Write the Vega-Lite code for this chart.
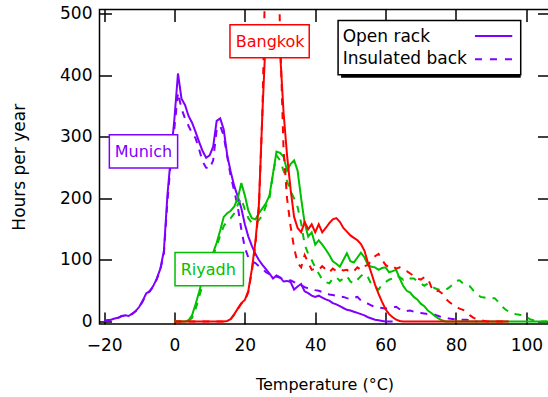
{
  "$schema": "https://vega.github.io/schema/vega-lite/v6.json",
  "width": 450,
  "height": 314.5,
  "autosize": {"type": "none"},
  "padding": {"left": 99.5, "top": 9.5, "right": 0, "bottom": 73},
  "background": "white",
  "config": {
    "view": {"stroke": "black", "strokeWidth": 1.5},
    "font": "DejaVu Sans",
    "axis": {"grid": false, "domain": false, "tickColor": "black", "tickWidth": 1.5, "tickSize": -12, "labelColor": "black", "labelFont": "DejaVu Sans", "labelFontSize": 17, "titleFont": "DejaVu Sans", "titleFontWeight": "normal", "titleColor": "black", "labelFlush": false, "labelOverlap": false}
  },
  "datasets": {
    "munich_open": [{"temp":-20,"hours":1},{"temp":-19,"hours":2},{"temp":-18,"hours":3},{"temp":-17,"hours":5},{"temp":-16,"hours":6},{"temp":-15,"hours":9},{"temp":-14,"hours":10},{"temp":-13,"hours":9},{"temp":-12,"hours":13},{"temp":-11,"hours":17},{"temp":-10,"hours":24},{"temp":-9,"hours":34},{"temp":-8,"hours":46},{"temp":-7,"hours":49},{"temp":-6,"hours":58},{"temp":-5,"hours":70},{"temp":-4,"hours":86},{"temp":-3,"hours":115},{"temp":-2,"hours":205},{"temp":-1,"hours":270},{"temp":0,"hours":330},{"temp":1,"hours":403},{"temp":2,"hours":362},{"temp":3,"hours":352},{"temp":4,"hours":334},{"temp":5,"hours":323},{"temp":6,"hours":308},{"temp":7,"hours":292},{"temp":8,"hours":277},{"temp":9,"hours":266},{"temp":10,"hours":270},{"temp":11,"hours":284},{"temp":12,"hours":326},{"temp":13,"hours":330},{"temp":14,"hours":312},{"temp":15,"hours":270},{"temp":16,"hours":243},{"temp":17,"hours":220},{"temp":18,"hours":203},{"temp":19,"hours":184},{"temp":20,"hours":158},{"temp":21,"hours":138},{"temp":22,"hours":123},{"temp":23,"hours":110},{"temp":24,"hours":100},{"temp":25,"hours":92},{"temp":26,"hours":85},{"temp":27,"hours":78},{"temp":28,"hours":70},{"temp":29,"hours":75},{"temp":30,"hours":72},{"temp":31,"hours":65},{"temp":32,"hours":66},{"temp":33,"hours":64},{"temp":34,"hours":52},{"temp":35,"hours":57},{"temp":36,"hours":61},{"temp":37,"hours":49},{"temp":38,"hours":46},{"temp":39,"hours":42},{"temp":40,"hours":40},{"temp":41,"hours":42},{"temp":42,"hours":39},{"temp":43,"hours":36},{"temp":44,"hours":34},{"temp":45,"hours":30},{"temp":46,"hours":28},{"temp":47,"hours":25},{"temp":48,"hours":22},{"temp":49,"hours":19},{"temp":50,"hours":18},{"temp":51,"hours":16},{"temp":52,"hours":14},{"temp":53,"hours":12},{"temp":54,"hours":10},{"temp":55,"hours":7},{"temp":56,"hours":5},{"temp":57,"hours":3},{"temp":58,"hours":2},{"temp":59,"hours":1},{"temp":60,"hours":0},{"temp":61,"hours":0},{"temp":62,"hours":0}],
    "munich_ins": [{"temp":-20,"hours":1},{"temp":-19,"hours":2},{"temp":-18,"hours":3},{"temp":-17,"hours":4},{"temp":-16,"hours":6},{"temp":-15,"hours":9},{"temp":-14,"hours":9},{"temp":-13,"hours":10},{"temp":-12,"hours":12},{"temp":-11,"hours":17},{"temp":-10,"hours":23},{"temp":-9,"hours":33},{"temp":-8,"hours":44},{"temp":-7,"hours":50},{"temp":-6,"hours":57},{"temp":-5,"hours":69},{"temp":-4,"hours":85},{"temp":-3,"hours":110},{"temp":-2,"hours":195},{"temp":-1,"hours":262},{"temp":0,"hours":315},{"temp":1,"hours":372},{"temp":2,"hours":346},{"temp":3,"hours":330},{"temp":4,"hours":318},{"temp":5,"hours":306},{"temp":6,"hours":298},{"temp":7,"hours":280},{"temp":8,"hours":260},{"temp":9,"hours":250},{"temp":10,"hours":248},{"temp":11,"hours":262},{"temp":12,"hours":312},{"temp":13,"hours":318},{"temp":14,"hours":302},{"temp":15,"hours":268},{"temp":16,"hours":236},{"temp":17,"hours":212},{"temp":18,"hours":186},{"temp":19,"hours":150},{"temp":20,"hours":120},{"temp":21,"hours":104},{"temp":22,"hours":98},{"temp":23,"hours":95},{"temp":24,"hours":90},{"temp":25,"hours":86},{"temp":26,"hours":80},{"temp":27,"hours":77},{"temp":28,"hours":72},{"temp":29,"hours":73},{"temp":30,"hours":71},{"temp":31,"hours":69},{"temp":32,"hours":66},{"temp":33,"hours":67},{"temp":34,"hours":64},{"temp":35,"hours":61},{"temp":36,"hours":59},{"temp":37,"hours":56},{"temp":38,"hours":54},{"temp":39,"hours":53},{"temp":40,"hours":51},{"temp":41,"hours":50},{"temp":42,"hours":48},{"temp":43,"hours":46},{"temp":44,"hours":44},{"temp":45,"hours":43},{"temp":46,"hours":42},{"temp":47,"hours":41},{"temp":48,"hours":40},{"temp":49,"hours":38},{"temp":50,"hours":37},{"temp":51,"hours":39},{"temp":52,"hours":40},{"temp":53,"hours":34},{"temp":54,"hours":31},{"temp":55,"hours":29},{"temp":56,"hours":26},{"temp":57,"hours":24},{"temp":58,"hours":23},{"temp":59,"hours":22},{"temp":60,"hours":21},{"temp":61,"hours":22},{"temp":62,"hours":23},{"temp":63,"hours":24},{"temp":64,"hours":20},{"temp":65,"hours":17},{"temp":66,"hours":17},{"temp":67,"hours":18},{"temp":68,"hours":16},{"temp":69,"hours":15},{"temp":70,"hours":14},{"temp":71,"hours":13},{"temp":72,"hours":12},{"temp":73,"hours":11},{"temp":74,"hours":11},{"temp":75,"hours":9},{"temp":76,"hours":7},{"temp":77,"hours":6},{"temp":78,"hours":5},{"temp":79,"hours":4},{"temp":80,"hours":4},{"temp":81,"hours":3},{"temp":82,"hours":3},{"temp":83,"hours":3},{"temp":84,"hours":2},{"temp":85,"hours":1},{"temp":86,"hours":0}],
    "riyadh_open": [{"temp":0,"hours":0},{"temp":1,"hours":0},{"temp":2,"hours":0},{"temp":3,"hours":0},{"temp":4,"hours":2},{"temp":5,"hours":10},{"temp":6,"hours":28},{"temp":7,"hours":48},{"temp":8,"hours":70},{"temp":9,"hours":88},{"temp":10,"hours":100},{"temp":11,"hours":112},{"temp":12,"hours":128},{"temp":13,"hours":148},{"temp":14,"hours":170},{"temp":15,"hours":176},{"temp":16,"hours":180},{"temp":17,"hours":187},{"temp":18,"hours":200},{"temp":19,"hours":225},{"temp":20,"hours":205},{"temp":21,"hours":180},{"temp":22,"hours":168},{"temp":23,"hours":166},{"temp":24,"hours":176},{"temp":25,"hours":184},{"temp":26,"hours":192},{"temp":27,"hours":205},{"temp":28,"hours":240},{"temp":29,"hours":276},{"temp":30,"hours":274},{"temp":31,"hours":268},{"temp":32,"hours":245},{"temp":33,"hours":256},{"temp":34,"hours":262},{"temp":35,"hours":245},{"temp":36,"hours":200},{"temp":37,"hours":160},{"temp":38,"hours":138},{"temp":39,"hours":145},{"temp":40,"hours":125},{"temp":41,"hours":132},{"temp":42,"hours":125},{"temp":43,"hours":117},{"temp":44,"hours":108},{"temp":45,"hours":98},{"temp":46,"hours":94},{"temp":47,"hours":89},{"temp":48,"hours":100},{"temp":49,"hours":111},{"temp":50,"hours":98},{"temp":51,"hours":96},{"temp":52,"hours":104},{"temp":53,"hours":112},{"temp":54,"hours":104},{"temp":55,"hours":92},{"temp":56,"hours":89},{"temp":57,"hours":88},{"temp":58,"hours":84},{"temp":59,"hours":87},{"temp":60,"hours":88},{"temp":61,"hours":80},{"temp":62,"hours":82},{"temp":63,"hours":84},{"temp":64,"hours":70},{"temp":65,"hours":58},{"temp":66,"hours":50},{"temp":67,"hours":47},{"temp":68,"hours":40},{"temp":69,"hours":36},{"temp":70,"hours":29},{"temp":71,"hours":25},{"temp":72,"hours":18},{"temp":73,"hours":14},{"temp":74,"hours":9},{"temp":75,"hours":5},{"temp":76,"hours":2},{"temp":77,"hours":0},{"temp":80,"hours":0},{"temp":85,"hours":0},{"temp":90,"hours":0},{"temp":95,"hours":0},{"temp":100,"hours":0},{"temp":106,"hours":0}],
    "riyadh_ins": [{"temp":0,"hours":0},{"temp":1,"hours":0},{"temp":2,"hours":0},{"temp":3,"hours":0},{"temp":4,"hours":1},{"temp":5,"hours":6},{"temp":6,"hours":20},{"temp":7,"hours":40},{"temp":8,"hours":60},{"temp":9,"hours":80},{"temp":10,"hours":95},{"temp":11,"hours":108},{"temp":12,"hours":122},{"temp":13,"hours":140},{"temp":14,"hours":155},{"temp":15,"hours":163},{"temp":16,"hours":168},{"temp":17,"hours":176},{"temp":18,"hours":190},{"temp":19,"hours":200},{"temp":20,"hours":182},{"temp":21,"hours":168},{"temp":22,"hours":160},{"temp":23,"hours":158},{"temp":24,"hours":165},{"temp":25,"hours":172},{"temp":26,"hours":188},{"temp":27,"hours":200},{"temp":28,"hours":240},{"temp":29,"hours":270},{"temp":30,"hours":262},{"temp":31,"hours":245},{"temp":32,"hours":228},{"temp":33,"hours":212},{"temp":34,"hours":200},{"temp":35,"hours":186},{"temp":36,"hours":160},{"temp":37,"hours":125},{"temp":38,"hours":110},{"temp":39,"hours":100},{"temp":40,"hours":88},{"temp":41,"hours":78},{"temp":42,"hours":68},{"temp":43,"hours":64},{"temp":44,"hours":62},{"temp":45,"hours":70},{"temp":46,"hours":72},{"temp":47,"hours":66},{"temp":48,"hours":70},{"temp":49,"hours":74},{"temp":50,"hours":65},{"temp":51,"hours":62},{"temp":52,"hours":68},{"temp":53,"hours":74},{"temp":54,"hours":78},{"temp":55,"hours":72},{"temp":56,"hours":60},{"temp":57,"hours":56},{"temp":58,"hours":52},{"temp":59,"hours":60},{"temp":60,"hours":64},{"temp":61,"hours":68},{"temp":62,"hours":70},{"temp":63,"hours":75},{"temp":64,"hours":72},{"temp":65,"hours":68},{"temp":66,"hours":72},{"temp":67,"hours":70},{"temp":68,"hours":70},{"temp":69,"hours":66},{"temp":70,"hours":62},{"temp":71,"hours":58},{"temp":72,"hours":62},{"temp":73,"hours":58},{"temp":74,"hours":54},{"temp":75,"hours":52},{"temp":76,"hours":50},{"temp":77,"hours":51},{"temp":78,"hours":55},{"temp":79,"hours":60},{"temp":80,"hours":66},{"temp":81,"hours":67},{"temp":82,"hours":62},{"temp":83,"hours":58},{"temp":84,"hours":57},{"temp":85,"hours":50},{"temp":86,"hours":45},{"temp":87,"hours":40},{"temp":88,"hours":39},{"temp":89,"hours":38},{"temp":90,"hours":38},{"temp":91,"hours":38},{"temp":92,"hours":32},{"temp":93,"hours":25},{"temp":94,"hours":20},{"temp":95,"hours":16},{"temp":96,"hours":14},{"temp":97,"hours":12},{"temp":98,"hours":11},{"temp":99,"hours":10},{"temp":100,"hours":7},{"temp":101,"hours":4},{"temp":102,"hours":2},{"temp":103,"hours":1},{"temp":104,"hours":0},{"temp":106,"hours":0}],
    "bangkok_open": [{"temp":0,"hours":0},{"temp":5,"hours":0},{"temp":10,"hours":0},{"temp":14,"hours":0},{"temp":15,"hours":1},{"temp":16,"hours":4},{"temp":17,"hours":12},{"temp":18,"hours":21},{"temp":19,"hours":30},{"temp":20,"hours":35},{"temp":21,"hours":50},{"temp":22,"hours":85},{"temp":23,"hours":130},{"temp":24,"hours":190},{"temp":25,"hours":340},{"temp":26,"hours":470},{"temp":27,"hours":475},{"temp":28,"hours":465},{"temp":29,"hours":470},{"temp":30,"hours":440},{"temp":31,"hours":340},{"temp":32,"hours":270},{"temp":33,"hours":215},{"temp":34,"hours":170},{"temp":35,"hours":152},{"temp":36,"hours":145},{"temp":37,"hours":162},{"temp":38,"hours":150},{"temp":39,"hours":158},{"temp":40,"hours":145},{"temp":41,"hours":158},{"temp":42,"hours":145},{"temp":43,"hours":152},{"temp":44,"hours":160},{"temp":45,"hours":166},{"temp":46,"hours":168},{"temp":47,"hours":162},{"temp":48,"hours":152},{"temp":49,"hours":146},{"temp":50,"hours":140},{"temp":51,"hours":136},{"temp":52,"hours":132},{"temp":53,"hours":126},{"temp":54,"hours":115},{"temp":55,"hours":95},{"temp":56,"hours":78},{"temp":57,"hours":60},{"temp":58,"hours":45},{"temp":59,"hours":32},{"temp":60,"hours":20},{"temp":61,"hours":12},{"temp":62,"hours":7},{"temp":63,"hours":3},{"temp":64,"hours":1},{"temp":65,"hours":0},{"temp":70,"hours":0},{"temp":75,"hours":0},{"temp":80,"hours":0},{"temp":85,"hours":0},{"temp":90,"hours":0},{"temp":95,"hours":0}],
    "bangkok_ins": [{"temp":0,"hours":0},{"temp":5,"hours":0},{"temp":10,"hours":0},{"temp":14,"hours":0},{"temp":15,"hours":1},{"temp":16,"hours":4},{"temp":17,"hours":11},{"temp":18,"hours":20},{"temp":19,"hours":29},{"temp":20,"hours":34},{"temp":21,"hours":48},{"temp":22,"hours":82},{"temp":23,"hours":125},{"temp":24,"hours":185},{"temp":25,"hours":340},{"temp":26,"hours":620},{"temp":27,"hours":800},{"temp":28,"hours":800},{"temp":29,"hours":760},{"temp":30,"hours":470},{"temp":31,"hours":280},{"temp":32,"hours":200},{"temp":33,"hours":155},{"temp":34,"hours":120},{"temp":35,"hours":95},{"temp":36,"hours":88},{"temp":37,"hours":108},{"temp":38,"hours":96},{"temp":39,"hours":84},{"temp":40,"hours":86},{"temp":41,"hours":84},{"temp":42,"hours":90},{"temp":43,"hours":85},{"temp":44,"hours":80},{"temp":45,"hours":86},{"temp":46,"hours":82},{"temp":47,"hours":85},{"temp":48,"hours":83},{"temp":49,"hours":84},{"temp":50,"hours":80},{"temp":51,"hours":82},{"temp":52,"hours":88},{"temp":53,"hours":84},{"temp":54,"hours":90},{"temp":55,"hours":92},{"temp":56,"hours":100},{"temp":57,"hours":106},{"temp":58,"hours":110},{"temp":59,"hours":100},{"temp":60,"hours":92},{"temp":61,"hours":88},{"temp":62,"hours":90},{"temp":63,"hours":86},{"temp":64,"hours":88},{"temp":65,"hours":84},{"temp":66,"hours":82},{"temp":67,"hours":78},{"temp":68,"hours":74},{"temp":69,"hours":70},{"temp":70,"hours":68},{"temp":71,"hours":72},{"temp":72,"hours":70},{"temp":73,"hours":56},{"temp":74,"hours":48},{"temp":75,"hours":50},{"temp":76,"hours":46},{"temp":77,"hours":38},{"temp":78,"hours":32},{"temp":79,"hours":28},{"temp":80,"hours":24},{"temp":81,"hours":21},{"temp":82,"hours":19},{"temp":83,"hours":16},{"temp":84,"hours":10},{"temp":85,"hours":6},{"temp":86,"hours":4},{"temp":87,"hours":2},{"temp":88,"hours":1},{"temp":89,"hours":0},{"temp":95,"hours":0}]
  },
  "layer": [
    {
      "data": {"name": "munich_open"},
      "mark": {"type": "line", "color": "#7F00FF", "strokeWidth": 2, "clip": true},
      "encoding": {
        "x": {"field": "temp", "type": "quantitative", "scale": {"domain": [-21.3, 106.58], "nice": false, "zero": false},
              "axis": {"orient": "bottom", "values": [-20, 0, 20, 40, 60, 80, 100], "title": "Temperature (°C)", "titleFontSize": 16, "labelPadding": 25, "titlePadding": 23}},
        "y": {"field": "hours", "type": "quantitative", "scale": {"domain": [-4, 507], "nice": false, "zero": false},
              "axis": {"orient": "left", "values": [0, 100, 200, 300, 400, 500], "title": "Hours per year", "titleFontSize": 17, "labelPadding": 19.5, "titlePadding": 31}}
      }
    },
    {
      "data": {"name": "munich_ins"},
      "mark": {"type": "line", "color": "#7F00FF", "strokeWidth": 2, "strokeDash": [7, 7], "clip": true},
      "encoding": {"x": {"field": "temp", "type": "quantitative", "axis": null}, "y": {"field": "hours", "type": "quantitative", "axis": null}}
    },
    {
      "data": {"name": "riyadh_open"},
      "mark": {"type": "line", "color": "#00C000", "strokeWidth": 2, "clip": true},
      "encoding": {"x": {"field": "temp", "type": "quantitative", "axis": null}, "y": {"field": "hours", "type": "quantitative", "axis": null}}
    },
    {
      "data": {"name": "riyadh_ins"},
      "mark": {"type": "line", "color": "#00C000", "strokeWidth": 2, "strokeDash": [7, 7], "clip": true},
      "encoding": {"x": {"field": "temp", "type": "quantitative", "axis": null}, "y": {"field": "hours", "type": "quantitative", "axis": null}}
    },
    {
      "data": {"name": "bangkok_open"},
      "mark": {"type": "line", "color": "#FF0000", "strokeWidth": 2, "clip": true},
      "encoding": {"x": {"field": "temp", "type": "quantitative", "axis": null}, "y": {"field": "hours", "type": "quantitative", "axis": null}}
    },
    {
      "data": {"name": "bangkok_ins"},
      "mark": {"type": "line", "color": "#FF0000", "strokeWidth": 2, "strokeDash": [7, 7], "clip": true},
      "encoding": {"x": {"field": "temp", "type": "quantitative", "axis": null}, "y": {"field": "hours", "type": "quantitative", "axis": null}}
    },
    {
      "data": {"values": [{"label": "Munich"}]},
      "mark": {"type": "rect", "fill": "white", "stroke": "#7F00FF", "strokeWidth": 1.5},
      "encoding": {"x": {"datum": -18.5, "axis": null}, "x2": {"datum": 0.9}, "y": {"datum": 249.4, "axis": null}, "y2": {"datum": 303.6}}
    },
    {
      "data": {"values": [{"label": "Munich"}]},
      "mark": {"type": "text", "color": "#7F00FF", "fontSize": 16, "font": "DejaVu Sans", "align": "center", "baseline": "middle"},
      "encoding": {"x": {"datum": -8.8, "axis": null}, "y": {"datum": 275, "axis": null}, "text": {"field": "label"}}
    },
    {
      "data": {"values": [{"label": "Riyadh"}]},
      "mark": {"type": "rect", "fill": "white", "stroke": "#00C000", "strokeWidth": 1.5},
      "encoding": {"x": {"datum": 0.16, "axis": null}, "x2": {"datum": 19.6}, "y": {"datum": 58, "axis": null}, "y2": {"datum": 112.2}}
    },
    {
      "data": {"values": [{"label": "Riyadh"}]},
      "mark": {"type": "text", "color": "#00C000", "fontSize": 16, "font": "DejaVu Sans", "align": "center", "baseline": "middle"},
      "encoding": {"x": {"datum": 9.6, "axis": null}, "y": {"datum": 84, "axis": null}, "text": {"field": "label"}}
    },
    {
      "data": {"values": [{"label": "Bangkok"}]},
      "mark": {"type": "rect", "fill": "white", "stroke": "#FF0000", "strokeWidth": 1.5},
      "encoding": {"x": {"datum": 15.78, "axis": null}, "x2": {"datum": 38.3}, "y": {"datum": 428.8, "axis": null}, "y2": {"datum": 482.4}}
    },
    {
      "data": {"values": [{"label": "Bangkok"}]},
      "mark": {"type": "text", "color": "#FF0000", "fontSize": 16, "font": "DejaVu Sans", "align": "center", "baseline": "middle"},
      "encoding": {"x": {"datum": 27.2, "axis": null}, "y": {"datum": 455, "axis": null}, "text": {"field": "label"}}
    },
    {
      "data": {"values": [{"label": "legend"}]},
      "mark": {"type": "rect", "fill": "black", "xOffset": 3, "yOffset": 3},
      "encoding": {
        "x": {"datum": 46.5, "axis": {"orient": "top", "values": [-20, 0, 20, 40, 60, 80, 100], "labels": false, "title": null}},
        "x2": {"datum": 98.4},
        "y": {"datum": 401, "axis": {"orient": "right", "values": [0, 100, 200, 300, 400, 500], "labels": false, "title": null}},
        "y2": {"datum": 489}
      }
    },
    {
      "data": {"values": [{"label": "legend"}]},
      "mark": {"type": "rect", "fill": "white", "stroke": "black", "strokeWidth": 1.5},
      "encoding": {"x": {"datum": 46.5, "axis": null}, "x2": {"datum": 98.4}, "y": {"datum": 401, "axis": null}, "y2": {"datum": 489}}
    },
    {
      "data": {"values": [{"label": "Open rack"}]},
      "mark": {"type": "text", "color": "black", "fontSize": 17, "font": "DejaVu Sans", "align": "left", "baseline": "middle"},
      "encoding": {"x": {"datum": 47.8, "axis": null}, "y": {"datum": 463, "axis": null}, "text": {"field": "label"}}
    },
    {
      "data": {"values": [{"label": "Insulated back"}]},
      "mark": {"type": "text", "color": "black", "fontSize": 17, "font": "DejaVu Sans", "align": "left", "baseline": "middle"},
      "encoding": {"x": {"datum": 47.8, "axis": null}, "y": {"datum": 426, "axis": null}, "text": {"field": "label"}}
    },
    {
      "data": {"values": [{"label": "Open rack"}]},
      "mark": {"type": "rule", "color": "#7F00FF", "strokeWidth": 2},
      "encoding": {"x": {"datum": 85.4, "axis": null}, "x2": {"datum": 96.0}, "y": {"datum": 464, "axis": null}}
    },
    {
      "data": {"values": [{"label": "Insulated back"}]},
      "mark": {"type": "rule", "color": "#7F00FF", "strokeWidth": 2, "strokeDash": [7, 8]},
      "encoding": {"x": {"datum": 85.4, "axis": null}, "x2": {"datum": 96.0}, "y": {"datum": 426.3, "axis": null}}
    }
  ],
  "resolve": {"axis": {"x": "independent", "y": "independent"}}
}
